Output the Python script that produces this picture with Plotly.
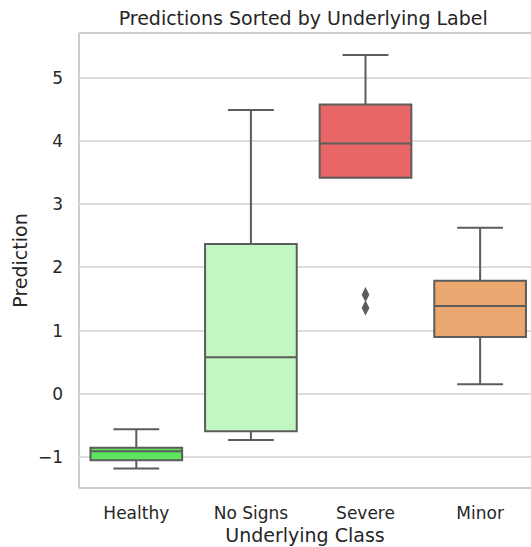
import plotly.graph_objects as go

categories = ["Healthy", "No Signs", "Severe", "Minor"]
q1 = [-1.05, -0.59, 3.42, 0.90]
median = [-0.91, 0.58, 3.96, 1.39]
q3 = [-0.855, 2.37, 4.58, 1.79]
lower = [-1.18, -0.73, 3.42, 0.15]
upper = [-0.56, 4.49, 5.36, 2.63]
colors = ["#5ee55e", "#c2f7c2", "#e86666", "#eaa870"]
outlier_cat = ["Severe", "Severe"]
outlier_val = [1.57, 1.36]

line_col = "#5c5c5c"
text_col = "#262626"
grid_col = "#dcdcdc"

fig = go.Figure()
for i, c in enumerate(categories):
    fig.add_trace(go.Box(
        x=[c], q1=[q1[i]], median=[median[i]], q3=[q3[i]],
        lowerfence=[lower[i]], upperfence=[upper[i]],
        fillcolor=colors[i], line=dict(color=line_col, width=2),
        width=0.8, whiskerwidth=0.5, boxpoints=False, showlegend=False,
        hoverinfo="y",
    ))

fig.add_trace(go.Scatter(
    x=outlier_cat, y=outlier_val, mode="markers",
    marker=dict(symbol="diamond-tall", size=11, color=line_col),
    showlegend=False,
))

fig.update_layout(
    width=531, height=547,
    margin=dict(l=79, r=0, t=33, b=59),
    plot_bgcolor="white", paper_bgcolor="white",
    font=dict(family="DejaVu Sans", color=text_col, size=17),
    title=dict(text="Predictions Sorted by Underlying Label", x=0.571, xanchor="center",
               y=0.966, yanchor="middle", font=dict(size=19, color=text_col)),
    boxmode="overlay",
    xaxis=dict(
        categoryorder="array", categoryarray=categories,
        range=[-0.5, 3.444], showgrid=False, zeroline=False, showline=False,
        ticks="", tickfont=dict(size=17, color=text_col), ticklabelstandoff=13,
        automargin=False,
        title=dict(text="Underlying Class", font=dict(size=19, color=text_col), standoff=6),
    ),
    yaxis=dict(
        range=[-1.49, 5.71], tickvals=[-1, 0, 1, 2, 3, 4, 5],
        ticktext=["\u22121", "0", "1", "2", "3", "4", "5"],
        showgrid=True, gridcolor=grid_col, gridwidth=1.5, zeroline=False,
        showline=False, ticks="", ticklabelstandoff=15, automargin=False,
        tickfont=dict(size=17, color=text_col),
        title=dict(text="Prediction", font=dict(size=19, color=text_col), standoff=5),
    ),
    shapes=[
        dict(type="line", xref="paper", yref="paper", x0=0, x1=0, y0=0, y1=1,
             line=dict(color="#cccccc", width=2), layer="below"),
        dict(type="line", xref="paper", yref="paper", x0=0, x1=1.02, y0=0, y1=0,
             line=dict(color="#cccccc", width=2), layer="below"),
        dict(type="line", xref="paper", yref="paper", x0=0, x1=1.02, y0=1, y1=1,
             line=dict(color="#cccccc", width=2), layer="below"),
    ],
)

fig.write_html("out.html", config={"displayModeBar": False},
               post_script="document.body.style.margin='0px';")
